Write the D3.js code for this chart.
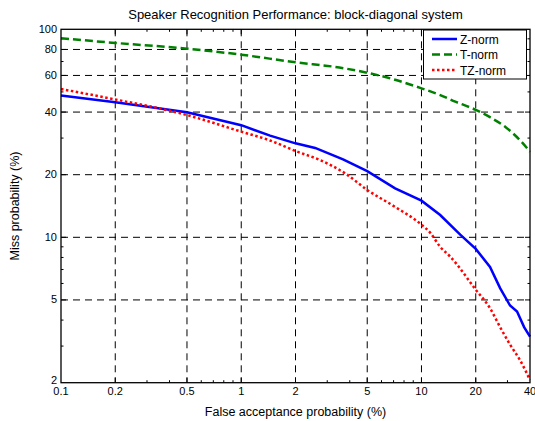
<!DOCTYPE html>
<html>
<head>
<meta charset="utf-8">
<script src="https://cdn.jsdelivr.net/npm/d3@7"></script>
<style>
  body { margin: 0; background: #fff; }
  svg { display: block; font-family: "Liberation Sans", Arial, sans-serif; }
</style>
</head>
<body>
<script>
// false acceptance (%) sample points per curve, miss probability (%)
var znormFA   = [0.1, 0.2, 0.5, 1, 1.445, 2, 2.57, 3.67, 5, 7.14, 10, 12.7, 16.4, 20, 24.0, 27.3, 31.0, 33.9, 37.1, 40];
var znormMiss = [48, 44.6, 39.9, 34.6, 30.8, 28.3, 26.9, 23.7, 20.8, 17.2, 15.0, 12.8, 10.3, 8.8, 7.2, 5.7, 4.7, 4.4, 3.7, 3.33];

var tnormFA   = [0.1, 0.2, 0.5, 1, 2, 3.5, 5, 7, 10, 12.7, 15.4, 20, 24.0, 29.1, 35.2, 40];
var tnormMiss = [90.5, 86, 80.7, 75.5, 69.4, 65.5, 61.8, 57.5, 52, 48.3, 44.9, 41.0, 37.8, 34.0, 29.3, 25.8];

var tznormFA   = [0.1, 0.2, 0.5, 1, 1.445, 2, 2.74, 3.77, 5, 7.14, 10, 11.2, 12.7, 14.4, 20, 24.0, 27.3, 31.0, 35.2, 40];
var tznormMiss = [51.6, 46, 38.7, 32.2, 29.2, 26.0, 23.5, 20.3, 16.9, 14.0, 11.5, 10.5, 9.0, 8.1, 5.6, 4.56, 3.7, 3.05, 2.57, 2.06];

var seriesNames = ["Z-norm", "T-norm", "TZ-norm"];
var xTicks = [0.1, 0.2, 0.5, 1, 2, 5, 10, 20, 40];
var yTicks = [2, 5, 10, 20, 40, 60, 80, 100];

var W = 535, H = 421;
var pL = 61, pR = 530, pT = 29.3, pB = 382.7;

var svg = d3.select("body").append("svg").attr("width", W).attr("height", H);

var x = d3.scaleLog().domain([0.1, 40]).range([pL, pR]);
var y = d3.scaleLog().domain([2, 100]).range([pB, pT]);

// grid
var grid = svg.append("g").attr("stroke", "#000").attr("stroke-width", 1).attr("stroke-dasharray", "7,5");
xTicks.slice(1, -1).forEach(function(t){
	grid.append("line").attr("x1", x(t)).attr("x2", x(t)).attr("y1", pT).attr("y2", pB);
});
yTicks.slice(1, -1).forEach(function(t){
	grid.append("line").attr("x1", pL).attr("x2", pR).attr("y1", y(t)).attr("y2", y(t));
});

// minor ticks, log style
var xMinor = [], yMinor = [];
[0.1, 1, 10].forEach(function(d){
	for(var k = 2; k <= 9; k++){
		var v = +(d * k).toFixed(4);
		if(v < 40 && xTicks.indexOf(v) < 0) xMinor.push(v);
	}
});
[1, 10].forEach(function(d){
	for(var k = 2; k <= 9; k++){
		var v = d * k;
		if(v > 2 && yTicks.indexOf(v) < 0) yMinor.push(v);
	}
});

var ticks = svg.append("g").attr("stroke", "#000").attr("stroke-width", 1);
xTicks.slice(1, -1).forEach(function(t){
	ticks.append("line").attr("x1", x(t)).attr("x2", x(t)).attr("y1", pB).attr("y2", pB - 5);
	ticks.append("line").attr("x1", x(t)).attr("x2", x(t)).attr("y1", pT).attr("y2", pT + 5);
});
xMinor.forEach(function(t){
	ticks.append("line").attr("x1", x(t)).attr("x2", x(t)).attr("y1", pB).attr("y2", pB - 2.5);
	ticks.append("line").attr("x1", x(t)).attr("x2", x(t)).attr("y1", pT).attr("y2", pT + 2.5);
});
yTicks.slice(1, -1).forEach(function(t){
	ticks.append("line").attr("x1", pL).attr("x2", pL + 5).attr("y1", y(t)).attr("y2", y(t));
	ticks.append("line").attr("x1", pR).attr("x2", pR - 5).attr("y1", y(t)).attr("y2", y(t));
});
yMinor.forEach(function(t){
	ticks.append("line").attr("x1", pL).attr("x2", pL + 2.5).attr("y1", y(t)).attr("y2", y(t));
	ticks.append("line").attr("x1", pR).attr("x2", pR - 2.5).attr("y1", y(t)).attr("y2", y(t));
});

// tick labels
svg.append("g").selectAll("text").data(xTicks).enter().append("text")
	.attr("x", function(d){ return x(d); })
	.attr("y", pB + 12.5)
	.attr("text-anchor", "middle")
	.style("font-size", "11px")
	.text(function(d){ return d; });

svg.append("g").selectAll("text").data(yTicks).enter().append("text")
	.attr("x", pL - 4)
	.attr("y", function(d){ return d == 2 ? y(d) + 1.5 : y(d) + 3.5; })
	.attr("text-anchor", "end")
	.style("font-size", "11px")
	.text(function(d){ return d; });

// curves
var line = d3.line().x(function(d){ return x(d[0]); }).y(function(d){ return y(d[1]); });
var curves = [
	{fa: znormFA, miss: znormMiss, color: "#0000ff", dash: null, smooth: false},
	{fa: tnormFA, miss: tnormMiss, color: "#008000", dash: "8,4", smooth: true},
	{fa: tznormFA, miss: tznormMiss, color: "#ff0000", dash: "2.5,2.5", smooth: true}
];
var plot = svg.append("g");
curves.forEach(function(c){
	var pts = d3.zip(c.fa, c.miss);
	line.curve(c.smooth ? d3.curveMonotoneX : d3.curveLinear);
	var p = plot.append("path")
		.attr("d", line(pts))
		.attr("fill", "none")
		.attr("stroke", c.color)
		.attr("stroke-width", 2.5);
	if(c.dash) p.attr("stroke-dasharray", c.dash);
});

// frame
svg.append("rect")
	.attr("x", pL).attr("y", pT)
	.attr("width", pR - pL).attr("height", pB - pT)
	.attr("fill", "none").attr("stroke", "#000").attr("stroke-width", 1.3);

// legend
var lg = svg.append("g");
lg.append("rect").attr("x", 423.5).attr("y", 30).attr("width", 103).attr("height", 49)
	.attr("fill", "#fff").attr("stroke", "#000").attr("stroke-width", 1);
seriesNames.forEach(function(name, i){
	var ly = 39 + i * 15.5;
	var l = lg.append("line").attr("x1", 432).attr("x2", 457).attr("y1", ly).attr("y2", ly)
		.attr("stroke", curves[i].color).attr("stroke-width", 2.5);
	if(curves[i].dash) l.attr("stroke-dasharray", curves[i].dash);
	lg.append("text").attr("x", 460).attr("y", ly + 4.5).style("font-size", "12px").text(name);
});

// titles
svg.append("text").attr("x", (pL + pR) / 2).attr("y", 19)
	.attr("text-anchor", "middle").style("font-size", "13px")
	.text("Speaker Recognition Performance: block-diagonal system");
svg.append("text").attr("x", (pL + pR) / 2).attr("y", 416)
	.attr("text-anchor", "middle").style("font-size", "12.5px")
	.text("False acceptance probability (%)");
svg.append("text").attr("transform", "translate(19," + ((pT + pB) / 2) + ") rotate(-90)")
	.attr("text-anchor", "middle").style("font-size", "12.5px")
	.text("Miss probability (%)");
</script>
</body>
</html>
